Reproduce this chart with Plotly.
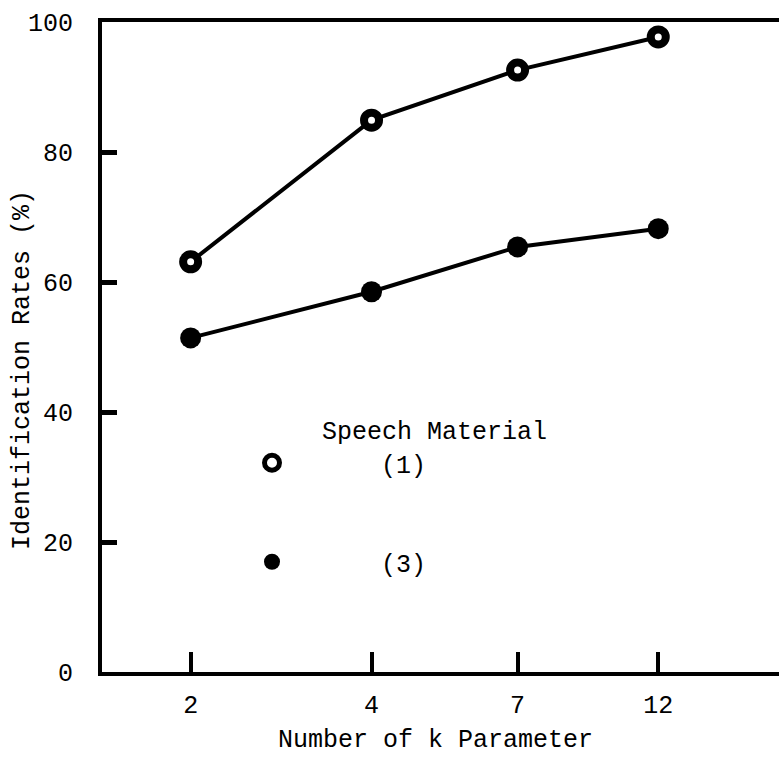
import plotly.graph_objects as go

k_values = [2, 4, 7, 12]
tick_labels = ["2", "4", "7", "12"]
material1_rates = [63.1, 84.9, 92.6, 97.7]
material3_rates = [51.4, 58.5, 65.4, 68.2]
y_ticks = [0, 20, 40, 60, 80, 100]

FONT = "Liberation Mono"
FS = 25
W, H = 779, 757
ML, MR, MT, MB = 102, 0, 22, 85

fig = go.Figure()

# connecting lines (no legend)
fig.add_trace(go.Scatter(x=k_values, y=material1_rates, mode="lines",
                         line=dict(color="black", width=4), showlegend=False))
fig.add_trace(go.Scatter(x=k_values, y=material3_rates, mode="lines",
                         line=dict(color="black", width=4), showlegend=False))
# markers (with legends)
fig.add_trace(go.Scatter(x=k_values, y=material1_rates, mode="markers", name="(1)",
                         marker=dict(symbol="circle", size=15, color="white",
                                     line=dict(color="black", width=8)),
                         legend="legend"))
fig.add_trace(go.Scatter(x=k_values, y=material3_rates, mode="markers", name="(3)",
                         marker=dict(symbol="circle", size=21, color="black",
                                     line=dict(color="black", width=0)),
                         legend="legend2"))

pw = W - ML - MR
ph = H - MT - MB

def px_x(p):
    return (p - ML) / pw

def px_y(p):
    return (H - MB - p) / ph

legend_common = dict(
    xanchor="left", yanchor="middle", bgcolor="rgba(0,0,0,0)",
    borderwidth=0, font=dict(family=FONT, size=FS, color="black"),
    itemwidth=208, itemsizing="trace",
)

fig.update_layout(
    width=W, height=H,
    margin=dict(l=ML, r=MR, t=MT, b=MB, autoexpand=False),
    paper_bgcolor="white", plot_bgcolor="white",
    font=dict(family=FONT, size=FS, color="black"),
    legend=dict(x=px_x(163), y=px_y(463), **legend_common),
    legend2=dict(x=px_x(163), y=px_y(562), **legend_common),
    xaxis=dict(
        type="log", range=[0.15355, 1.2801],
        tickmode="array", tickvals=k_values, ticktext=tick_labels,
        ticks="inside", ticklen=20, tickwidth=4, tickcolor="black",
        showline=True, linewidth=4, linecolor="black", mirror=True,
        showgrid=False, zeroline=False, ticklabelstandoff=7,
    ),
    yaxis=dict(
        range=[0, 100],
        tickmode="array", tickvals=y_ticks,
        ticks="inside", ticklen=15, tickwidth=5, tickcolor="black",
        showline=True, linewidth=4, linecolor="black", mirror=False,
        showgrid=False, zeroline=False, ticklabelstandoff=20,
    ),
    annotations=[
        dict(text="Identification Rates (%)", textangle=-90,
             xref="paper", yref="paper", x=px_x(22), y=px_y(370),
             xanchor="center", yanchor="middle", showarrow=False,
             font=dict(family=FONT, size=FS, color="black")),
        dict(text="Number of k Parameter",
             xref="paper", yref="paper", x=px_x(435), y=px_y(740),
             xanchor="center", yanchor="middle", showarrow=False,
             font=dict(family=FONT, size=FS, color="black")),
        dict(text="Speech Material",
             xref="paper", yref="paper", x=px_x(434.5), y=px_y(432),
             xanchor="center", yanchor="middle", showarrow=False,
             font=dict(family=FONT, size=FS, color="black")),
    ],
)

fig.write_html(
    "out.html",
    config={"displayModeBar": False},
    post_script="document.body.style.margin='0';document.body.style.overflow='hidden';",
)
